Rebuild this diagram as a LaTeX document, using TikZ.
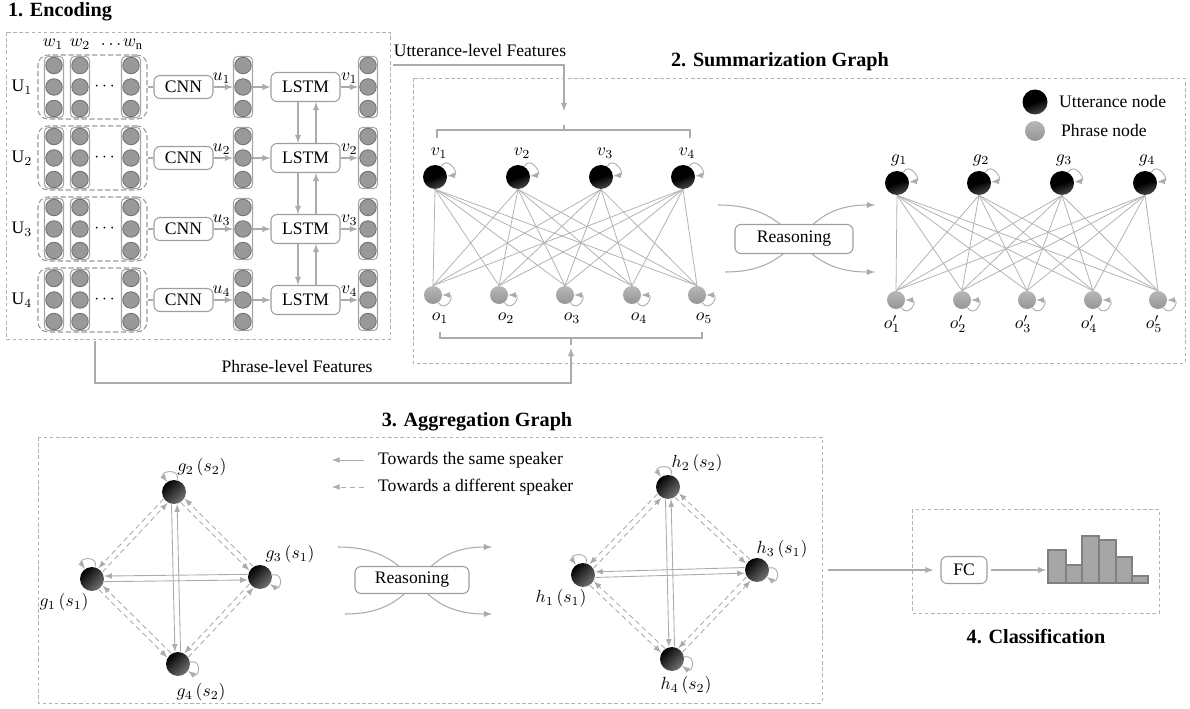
\documentclass[tikz,border=0pt]{standalone}
\usepackage{fontspec}
\setmainfont{Liberation Serif}
\usepackage{amsmath}
\usepackage{tikz}
\usetikzlibrary{positioning, arrows, calc}

\tikzset{
  line/.style={draw=black!33, line width=0.6pt},
  arr/.style={line, -latex},
  area/.style={draw=black!30, line width=0.5pt, dash pattern=on 2pt off 1.5pt},
  title/.style={font=\fontsize{11.5}{13}\selectfont\bfseries},
  blk/.style={draw=black!38, fill=white, rounded corners=1.2mm, line width=0.6pt, inner sep=0pt},
  vec/.style={draw=black!35, rounded corners=0.8mm, minimum width=3.8mm, minimum height=12.2mm, line width=0.6pt},
  cell/.style={circle, draw=black!55, fill=black!40, minimum size=3.3mm, inner sep=0pt, line width=0.5pt},
  grp/.style={draw=black!40, rounded corners=2mm, minimum width=21.8mm, minimum height=12.8mm, line width=0.6pt, dash pattern=on 3pt off 1.5pt},
  utt/.style={circle, inner sep=0pt, minimum size=4.8mm, top color=black, bottom color=black!72, middle color=black, shading angle=20},
  phr/.style={circle, inner sep=0pt, minimum size=3.6mm, top color=black!28, bottom color=black!42},
  edge/.style={draw=black!30, line width=0.45pt},
  selfloop/.style={arr, line width=0.5pt, distance=2.6mm},
  same/.style={arr, line width=0.5pt},
  diff/.style={arr, line width=0.5pt, dash pattern=on 3pt off 2pt},
  bar/.style={draw=black!50, fill=black!35, line width=0.6pt},
}

% two arrows in opposite directions, side by side
\newcommand{\pairarrows}[3]{%
  \draw[#1, shorten <=7pt, shorten >=7pt] ($(#2)!1.6pt!-90:(#3)$) -- ($(#3)!1.6pt!90:(#2)$);
  \draw[#1, shorten <=7pt, shorten >=7pt] ($(#3)!1.6pt!-90:(#2)$) -- ($(#2)!1.6pt!90:(#3)$);
}

\begin{document}
\begin{tikzpicture}[x=0.02cm, y=0.02cm, font=\fontsize{10}{12}\selectfont]
  \useasboundingbox (0,0) rectangle (1190,-709);

  % ---------- 1. Encoding ----------
  \node[title] (t1) at (60,-12) {1. Encoding};
  \draw[area] (6,-32) rectangle (390,-339);
  \node (lw1) at (53,-44) {$w_1$};
  \node (lw2) at (80,-44) {$w_2$};
  \node (ldots) at (111,-45) {$\ldots$};
  \node (lwn) at (133,-44) {$w_\mathrm{n}$};

  \foreach \i/\y in {1/87,2/158,3/229,4/300} {
    \node[grp] (grp\i) at (92.5,-\y) {};
    \node (U\i) at (22,-\y) {U$_\i$};
    \foreach \k/\x in {1/54,2/80,n/131} {
      \node[vec] (w\i\k) at (\x,-\y) {};
      \foreach \d/\j in {21.5/a,0/b,-21.5/c}
        \node[cell] (w\i\k\j) at (\x,\d-\y) {};
    }
    \node (dots\i) at (106,-\y) {$\cdots$};
    \node[blk, minimum width=11.8mm, minimum height=4.6mm] (cnn\i) at (183.5,-\y) {CNN};
    \node[vec] (uvec\i) at (243,-\y) {};
    \node[vec] (vvec\i) at (368,-\y) {};
    \foreach \d/\j in {21.5/a,0/b,-21.5/c} {
      \node[cell] (u\i\j) at (243,\d-\y) {};
      \node[cell] (v\i\j) at (368,\d-\y) {};
    }
    \node[blk, minimum width=13.8mm, minimum height=5.8mm] (lstm\i) at (305.5,-\y) {LSTM};
    \draw[line] (grp\i) -- (cnn\i);
    \draw[arr] (cnn\i) -- node[above=-1.5pt, xshift=-1pt] {$u_\i$} (uvec\i);
    \draw[arr] (uvec\i) -- (lstm\i);
    \draw[arr] (lstm\i) -- node[above=-1.5pt] {$v_\i$} (vvec\i);
  }
  \foreach \i/\j in {1/2,2/3,3/4} {
    \draw[arr] ([xshift=-1.5mm]lstm\i.south) -- ([xshift=-1.5mm]lstm\j.north);
    \draw[arr] ([xshift=2.1mm]lstm\j.north) -- ([xshift=2.1mm]lstm\i.south);
  }

  % features passed on to the graph
  \coordinate (uttin) at (393,-65);
  \coordinate (uttout) at (564,-111);
  \draw[arr] (uttin) -| (uttout);
  \node (uttlbl) at (480,-50) {Utterance-level Features};
  \coordinate (phrin) at (95,-341);
  \coordinate (phrout) at (571,-348);
  \draw[arr] (phrin) -- ++(0,-42) -| (phrout);
  \node (phrlbl) at (297,-366) {Phrase-level Features};

  % ---------- 2. Summarization Graph ----------
  \node[title] (t2) at (780,-62) {2. Summarization Graph};
  \draw[area] (413,-78) rectangle (1185,-363);
  \draw[line] (437,-138) -- (437,-130) -- (690,-130) -- (690,-138);
  \draw[line] (564,-130) -- (564,-125);
  \draw[line] (440,-332) -- (440,-338) -- (702,-338) -- (702,-332);
  \draw[line] (571,-338) -- (571,-345);

  \foreach \i/\x in {1/435,2/518,3/601,4/683} {
    \node[utt] (v\i) at (\x,-177) {};
    \node (lv\i) at (\x+4,-153) {$v_\i$};
    \draw[selfloop] (v\i.60) to[out=60, in=5] (v\i.5);
  }
  \foreach \i/\x in {1/433,2/499,3/565,4/632,5/697} {
    \node[phr] (o\i) at (\x,-295) {};
    \node (lo\i) at (\x+7,-318) {$o_\i$};
    \draw[selfloop] (o\i.-55) to[out=-55, in=0] (o\i.0);
  }
  \foreach \i in {1,...,4}
    \foreach \j in {1,...,5}
      \draw[edge] (v\i.south) -- (o\j.north);

  \coordinate (ra1) at (718,-205);
  \coordinate (rb1) at (875,-272);
  \coordinate (ra2) at (725,-272);
  \coordinate (rb2) at (875,-205);
  \draw[arr] (ra1) to[out=0, in=180, looseness=1.3] (rb1);
  \draw[arr] (ra2) to[out=0, in=180, looseness=1.3] (rb2);
  \node[blk, minimum width=23.6mm, minimum height=5.8mm] (reason1) at (794,-239) {Reasoning};

  \foreach \i/\x in {1/897,2/979,3/1062,4/1145} {
    \node[utt] (g\i) at (\x,-183) {};
    \node (lg\i) at (\x+2,-160) {$g_\i$};
    \draw[selfloop] (g\i.60) to[out=60, in=5] (g\i.5);
  }
  \foreach \i/\x in {1/896,2/962,3/1027,4/1093,5/1158} {
    \node[phr] (op\i) at (\x,-300) {};
    \node (lop\i) at (\x-4,-324) {$o'_\i$};
    \draw[selfloop] (op\i.-55) to[out=-55, in=0] (op\i.0);
  }
  \foreach \i in {1,...,4}
    \foreach \j in {1,...,5}
      \draw[edge] (g\i.south) -- (op\j.north);

  % legend
  \node[utt, minimum size=5mm] (keyutt) at (1035,-102) {};
  \node[anchor=west] (keyuttlbl) at (1053,-101) {Utterance node};
  \node[phr, minimum size=4mm] (keyphr) at (1035,-131) {};
  \node[anchor=west] (keyphrlbl) at (1055,-130) {Phrase node};

  % ---------- 3. Aggregation Graph ----------
  \node[title] (t3) at (477,-422) {3. Aggregation Graph};
  \draw[area] (38,-437) rectangle (822,-703);

  \node[utt, bottom color=black!55, shading angle=45] (gs1) at (92,-579) {};
  \node[utt, bottom color=black!55, shading angle=45] (gs2) at (174,-492) {};
  \node[utt, bottom color=black!55, shading angle=45] (gs3) at (260,-577) {};
  \node[utt, bottom color=black!55, shading angle=45] (gs4) at (178,-664) {};
  \node (lgs1) at (64,-602) {$g_1\,(s_1)$};
  \node (lgs2) at (202,-467) {$g_2\,(s_2)$};
  \node (lgs3) at (290,-554) {$g_3\,(s_1)$};
  \node (lgs4) at (201,-692) {$g_4\,(s_2)$};
  \pairarrows{same}{gs1}{gs3}
  \pairarrows{same}{gs2}{gs4}
  \pairarrows{diff}{gs1}{gs2}
  \pairarrows{diff}{gs2}{gs3}
  \pairarrows{diff}{gs3}{gs4}
  \pairarrows{diff}{gs4}{gs1}
  \foreach \n in {gs1,gs2} \draw[selfloop] (\n.75) to[out=75, in=125] (\n.125);
  \foreach \n in {gs3,gs4} \draw[selfloop] (\n.10) to[out=10, in=-35] (\n.-35);

  \coordinate (ks1) at (364,-460);
  \coordinate (ks2) at (332,-460);
  \coordinate (kd1) at (364,-487);
  \coordinate (kd2) at (332,-487);
  \draw[same] (ks1) -- (ks2);
  \draw[diff] (kd1) -- (kd2);
  \node[anchor=west] (kslbl) at (372,-460) {Towards the same speaker};
  \node[anchor=west] (kdlbl) at (372,-487) {Towards a different speaker};

  \coordinate (sa1) at (338,-547);
  \coordinate (sb1) at (492,-614);
  \coordinate (sa2) at (345,-614);
  \coordinate (sb2) at (492,-547);
  \draw[arr] (sa1) to[out=0, in=180, looseness=1.3] (sb1);
  \draw[arr] (sa2) to[out=0, in=180, looseness=1.3] (sb2);
  \node[blk, minimum width=22.8mm, minimum height=5.4mm] (reason2) at (412,-580) {Reasoning};

  \node[utt, bottom color=black!55, shading angle=45] (h1) at (583,-575) {};
  \node[utt, bottom color=black!55, shading angle=45] (h2) at (668,-487) {};
  \node[utt, bottom color=black!55, shading angle=45] (h3) at (757,-570) {};
  \node[utt, bottom color=black!55, shading angle=45] (h4) at (672,-659) {};
  \node (lh1) at (561,-598) {$h_1\,(s_1)$};
  \node (lh2) at (697,-463) {$h_2\,(s_2)$};
  \node (lh3) at (782,-549) {$h_3\,(s_1)$};
  \node (lh4) at (686,-685) {$h_4\,(s_2)$};
  \pairarrows{same}{h1}{h3}
  \pairarrows{same}{h2}{h4}
  \pairarrows{diff}{h1}{h2}
  \pairarrows{diff}{h2}{h3}
  \pairarrows{diff}{h3}{h4}
  \pairarrows{diff}{h4}{h1}
  \foreach \n in {h1,h2} \draw[selfloop] (\n.75) to[out=75, in=125] (\n.125);
  \foreach \n in {h3,h4} \draw[selfloop] (\n.10) to[out=10, in=-35] (\n.-35);

  % ---------- 4. Classification ----------
  \draw[area] (912,-509) rectangle (1159,-613);
  \node[title] (t4) at (1036,-637) {4. Classification};
  \node[blk, minimum width=9.2mm, minimum height=5.4mm] (fc) at (964,-570) {FC};
  \coordinate (aggout) at (828,-570);
  \draw[arr, shorten >=4pt] (aggout) -- (fc);
  \coordinate (hist) at (1046,-570);
  \draw[arr, shorten <=2pt] (fc) -- (hist);
  \foreach \a/\b/\t in {1048/1066/550,1066/1082/565,1082/1099/536,1099/1116/540,1116/1132/557,1132/1148/576}
    \draw[bar] (\a,-583) rectangle (\b,-\t);
\end{tikzpicture}
\end{document}
